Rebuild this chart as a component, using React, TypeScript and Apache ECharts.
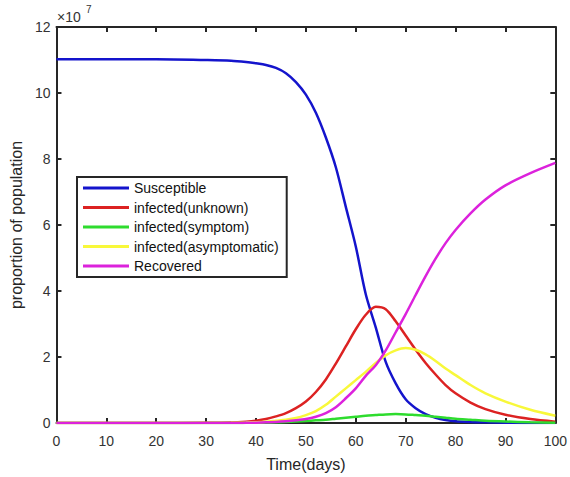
import React, { useEffect, useRef } from "react";
import * as echarts from "echarts";

const days = [0, 10, 20, 30, 35, 38, 40, 42, 44, 46, 48, 50, 52, 54, 56, 58, 60, 62, 64, 66, 68, 70, 72, 74, 76, 78, 80, 83, 86, 90, 95, 100];
// values in units of 1e7
const susceptible = [11.02, 11.02, 11.02, 11.0, 10.98, 10.94, 10.9, 10.85, 10.76, 10.6, 10.33, 9.95, 9.4, 8.65, 7.75, 6.55, 5.35, 3.9, 2.9, 1.85, 1.2, 0.72, 0.45, 0.27, 0.16, 0.09, 0.05, 0.03, 0.02, 0.01, 0.0, 0.0];
const infectedUnknown = [0, 0, 0, 0.005, 0.015, 0.04, 0.07, 0.12, 0.2, 0.3, 0.45, 0.65, 0.94, 1.32, 1.8, 2.32, 2.84, 3.28, 3.52, 3.45, 3.08, 2.65, 2.22, 1.82, 1.47, 1.15, 0.9, 0.62, 0.42, 0.25, 0.12, 0.04];
const infectedSymptom = [0, 0, 0, 0, 0, 0.005, 0.01, 0.015, 0.02, 0.03, 0.045, 0.06, 0.08, 0.1, 0.13, 0.16, 0.19, 0.22, 0.24, 0.26, 0.27, 0.26, 0.24, 0.22, 0.19, 0.16, 0.13, 0.1, 0.07, 0.045, 0.02, 0.01];
const infectedAsymptomatic = [0, 0, 0, 0, 0.005, 0.015, 0.025, 0.04, 0.07, 0.1, 0.15, 0.24, 0.36, 0.55, 0.8, 1.05, 1.3, 1.55, 1.82, 2.05, 2.2, 2.27, 2.22, 2.08, 1.88, 1.65, 1.45, 1.15, 0.9, 0.65, 0.4, 0.22];
const recovered = [0, 0, 0, 0, 0, 0.005, 0.01, 0.02, 0.03, 0.05, 0.08, 0.12, 0.19, 0.3, 0.48, 0.75, 1.05, 1.43, 1.75, 2.2, 2.75, 3.3, 3.88, 4.45, 4.98, 5.45, 5.85, 6.35, 6.77, 7.2, 7.57, 7.88];

const seriesNames = ["Susceptible", "infected(unknown)", "infected(symptom)", "infected(asymptomatic)", "Recovered"];
const seriesColors = ["#1414cc", "#dc2222", "#2edc2e", "#f8f83a", "#dc22dc"];
const seriesValues = [susceptible, infectedUnknown, infectedSymptom, infectedAsymptomatic, recovered];

const xAxisTitle = "Time(days)";
const yAxisTitle = "proportion of population";

export default function App() {
  const ref = useRef<HTMLDivElement>(null);
  useEffect(() => {
    if (!ref.current) return;
    const chart = echarts.init(ref.current, undefined, { renderer: "svg" });
    const axisColor = "#262626";
    const font = "'Liberation Sans', Arial, sans-serif";
    chart.setOption({
      animation: false,
      backgroundColor: "#ffffff",
      grid: { left: 55, right: 12, top: 27, bottom: 53, containLabel: false },
      legend: {
        orient: "vertical",
        left: 77,
        top: 177,
        padding: [3, 8, 3, 6],
        itemGap: 3.5,
        itemWidth: 46,
        itemHeight: 3,
        icon: "rect",
        borderColor: "#262626",
        borderWidth: 2,
        backgroundColor: "#ffffff",
        textStyle: { fontFamily: font, fontSize: 14, color: "#111", lineHeight: 16 },
        data: seriesNames,
      },
      xAxis: [
        {
          type: "value",
          min: 0,
          max: 100,
          interval: 10,
          name: xAxisTitle,
          nameLocation: "middle",
          nameGap: 33,
          nameTextStyle: { fontFamily: font, fontSize: 16, color: "#262626" },
          axisLine: { show: true, onZero: false, lineStyle: { color: axisColor, width: 2 } },
          axisTick: { show: true, inside: true, length: 5, lineStyle: { color: axisColor, width: 2 } },
          axisLabel: { fontFamily: font, fontSize: 14, color: "#333", margin: 11 },
          splitLine: { show: false },
        },
        {
          type: "value",
          position: "top",
          min: 0,
          max: 100,
          interval: 10,
          axisLine: { show: true, onZero: false, lineStyle: { color: axisColor, width: 2 } },
          axisTick: { show: true, inside: true, length: 5, lineStyle: { color: axisColor, width: 2 } },
          axisLabel: { show: false },
          splitLine: { show: false },
        },
      ],
      yAxis: [
        {
          type: "value",
          min: 0,
          max: 12,
          interval: 2,
          name: yAxisTitle,
          nameLocation: "middle",
          nameGap: 28,
          nameTextStyle: { fontFamily: font, fontSize: 16, color: "#262626" },
          axisLine: { show: true, onZero: false, lineStyle: { color: axisColor, width: 2 } },
          axisTick: { show: true, inside: true, length: 5, lineStyle: { color: axisColor, width: 2 } },
          axisLabel: { fontFamily: font, fontSize: 14, color: "#333", margin: 6 },
          splitLine: { show: false },
        },
        {
          type: "value",
          position: "right",
          min: 0,
          max: 12,
          interval: 2,
          axisLine: { show: true, onZero: false, lineStyle: { color: axisColor, width: 2 } },
          axisTick: { show: true, inside: true, length: 5, lineStyle: { color: axisColor, width: 2 } },
          axisLabel: { show: false },
          splitLine: { show: false },
        },
      ],
      graphic: [
        {
          type: "text",
          left: 57,
          top: 10,
          style: { text: "×10", fontFamily: font, fontSize: 14, fill: "#333" },
        },
        {
          type: "text",
          left: 86,
          top: 4,
          style: { text: "7", fontFamily: font, fontSize: 10, fill: "#333" },
        },
      ],
      series: seriesNames.map((name, i) => ({
        name,
        type: "line",
        xAxisIndex: 0,
        yAxisIndex: 0,
        showSymbol: false,
        smooth: 0.3,
        color: seriesColors[i],
        lineStyle: { width: 2.5, color: seriesColors[i] },
        data: days.map((d, j) => [d, seriesValues[i][j]]),
        z: 2 + i,
      })),
    });
    return () => chart.dispose();
  }, []);
  return <div ref={ref} style={{ position: "fixed", left: 0, top: 0, width: 570, height: 477 }} />;
}
